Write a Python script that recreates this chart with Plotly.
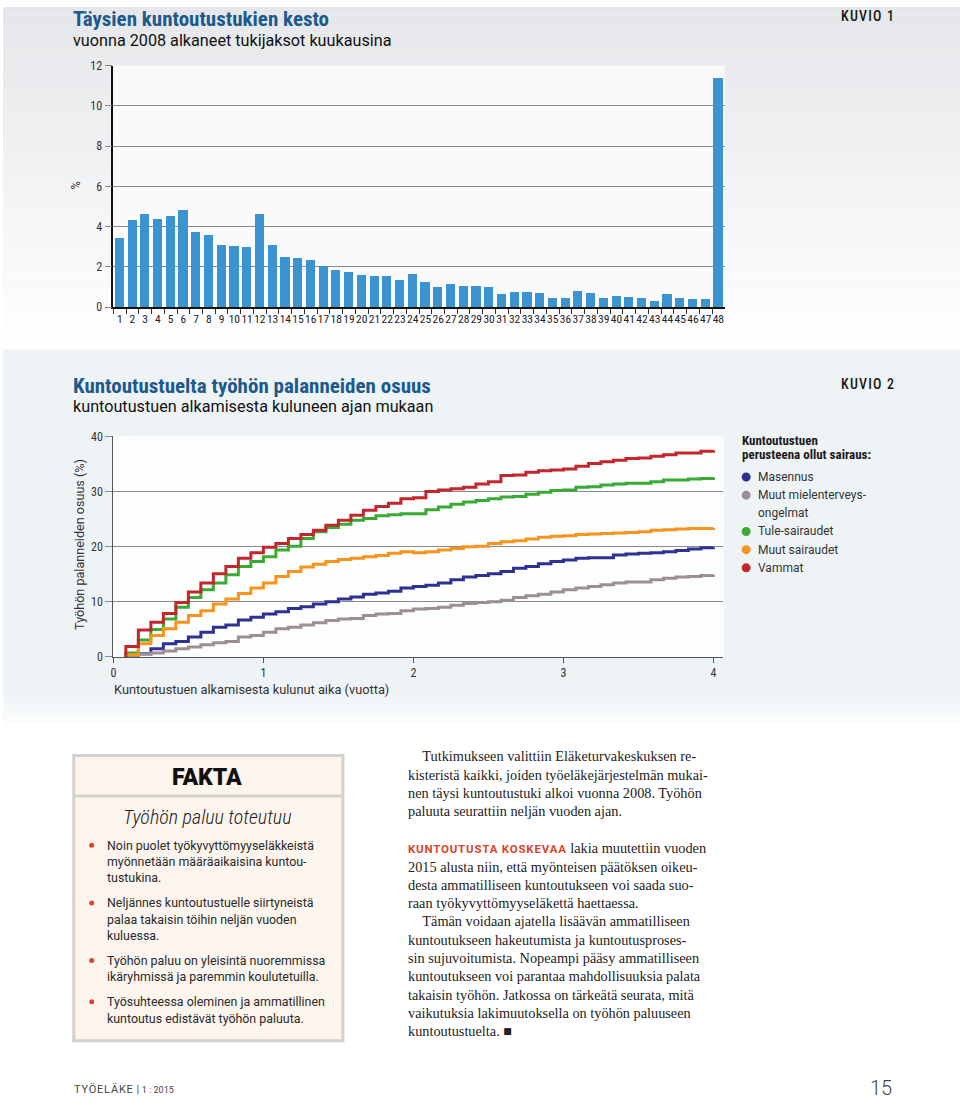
import plotly.graph_objects as go

W, H = 960, 1106

# kuvio 1: taysien kuntoutustukien kesto kuukausina (%)
months = list(range(1, 49))
share_pct = [3.48, 4.34, 4.65, 4.39, 4.56, 4.85, 3.76, 3.62, 3.12, 3.04,
             3.03, 4.67, 3.09, 2.51, 2.45, 2.38, 2.06, 1.88, 1.76, 1.63,
             1.58, 1.55, 1.36, 1.68, 1.26, 1.01, 1.16, 1.08, 1.08, 1.00,
             0.67, 0.80, 0.77, 0.72, 0.46, 0.46, 0.82, 0.73, 0.46, 0.57,
             0.52, 0.49, 0.34, 0.69, 0.49, 0.42, 0.41, 11.40]
y1_ticks = [0, 2, 4, 6, 8, 10, 12]

# kuvio 2: tyohon palanneiden osuus (%), kuukauden 1..48 kohdalla
step_months = list(range(1, 49))
masennus = [0.2, 0.6, 1.5, 2.4, 2.8, 3.6, 4.5, 5.4, 5.8, 6.7, 7.2, 7.8,
            8.2, 8.8, 9.1, 9.6, 10.0, 10.5, 10.9, 11.4, 11.6, 11.9, 12.5, 12.8,
            13.0, 13.4, 14.0, 14.5, 14.8, 15.1, 15.5, 16.1, 16.4, 16.9, 17.3, 17.6,
            17.9, 18.0, 18.0, 18.5, 18.7, 18.8, 18.9, 19.1, 19.3, 19.6, 19.8, 19.9]
muut_mielenterveys = [0.2, 0.5, 0.7, 1.1, 1.5, 1.8, 2.2, 2.6, 2.8, 3.6, 3.9, 4.5,
                      5.1, 5.4, 5.8, 6.2, 6.6, 6.9, 7.0, 7.5, 7.8, 7.9, 8.4, 8.7,
                      8.8, 9.0, 9.4, 9.7, 9.9, 10.0, 10.3, 10.8, 11.1, 11.4, 11.8, 12.2,
                      12.5, 12.8, 13.1, 13.4, 13.6, 13.6, 14.0, 14.3, 14.5, 14.6, 14.8, 14.9]
tule = [0.7, 3.1, 5.0, 6.9, 9.0, 10.8, 12.2, 13.4, 14.9, 16.4, 17.3, 18.2,
        19.4, 20.1, 21.5, 22.7, 23.5, 24.1, 24.8, 25.1, 25.6, 25.8, 26.0, 26.0,
        26.7, 27.2, 27.7, 28.1, 28.4, 28.7, 29.0, 29.1, 29.5, 29.9, 30.2, 30.3,
        30.8, 30.9, 31.2, 31.4, 31.5, 31.5, 31.8, 32.1, 32.1, 32.3, 32.4, 32.6]
muut_sairaudet = [0.4, 2.4, 3.9, 5.1, 6.3, 7.5, 8.4, 9.6, 10.5, 11.5, 12.5, 13.4,
                  14.6, 15.5, 16.3, 16.8, 17.3, 17.7, 17.9, 18.2, 18.4, 18.8, 19.1, 18.9,
                  19.1, 19.4, 19.7, 20.0, 20.1, 20.6, 20.9, 21.1, 21.4, 21.7, 21.9, 22.0,
                  22.2, 22.3, 22.4, 22.5, 22.6, 22.7, 23.0, 23.1, 23.2, 23.3, 23.3, 23.4]
vammat = [1.9, 4.9, 6.3, 7.9, 9.9, 11.8, 13.4, 15.1, 16.4, 17.9, 18.9, 19.9,
          20.6, 21.5, 22.2, 23.0, 23.9, 24.8, 25.7, 26.6, 27.3, 27.9, 28.7, 28.9,
          30.0, 30.3, 30.5, 30.8, 31.4, 31.8, 32.9, 33.0, 33.5, 33.8, 33.9, 34.1,
          34.6, 35.1, 35.4, 35.7, 36.0, 36.1, 36.4, 36.7, 37.0, 37.0, 37.3, 37.5]
series_names = ['Masennus', 'Muut mielenterveys-<br>ongelmat', 'Tule-sairaudet',
                'Muut sairaudet', 'Vammat']
series_values = [masennus, muut_mielenterveys, tule, muut_sairaudet, vammat]
series_colors = ['#2e3192', '#9b8f95', '#3aaa35', '#f7941d', '#c1272d']
x2_ticks = [0, 1, 2, 3, 4]
y2_ticks = [0, 10, 20, 30, 40]

fakta_items = [
  ['Noin puolet työkyvyttömyyseläkkeistä', 'myönnetään määräaikaisina kuntou-', 'tustukina.'],
  ['Neljännes kuntoutustuelle siirtyneistä', 'palaa takaisin töihin neljän vuoden', 'kuluessa.'],
  ['Työhön paluu on yleisintä nuoremmissa', 'ikäryhmissä ja paremmin koulutetuilla.'],
  ['Työsuhteessa oleminen ja ammatillinen', 'kuntoutus edistävät työhön paluuta.'],
]
body_paragraphs = [
  ['\u2003Tutkimukseen valittiin Eläketurvakeskuksen re-',
   'kisteristä kaikki, joiden työeläkejärjestelmän mukai-',
   'nen täysi kuntoutustuki alkoi vuonna 2008. Työhön',
   'paluuta seurattiin neljän vuoden ajan.'],
  ['<LEAD> lakia muutettiin vuoden',
   '2015 alusta niin, että myönteisen päätöksen oikeu-',
   'desta ammatilliseen kuntoutukseen voi saada suo-',
   'raan työkyvyttömyyseläkettä haettaessa.',
   '\u2003Tämän voidaan ajatella lisäävän ammatilliseen',
   'kuntoutukseen hakeutumista ja kuntoutusproses-',
   'sin sujuvoitumista. Nopeampi pääsy ammatilliseen',
   'kuntoutukseen voi parantaa mahdollisuuksia palata',
   'takaisin työhön. Jatkossa on tärkeätä seurata, mitä',
   'vaikutuksia lakimuutoksella on työhön paluuseen',
   'kuntoutustuelta. \u25a0'],
]
lead_in = 'KUNTOUTUSTA KOSKEVAA'

COND = 'Roboto Condensed, DejaVu Sans Condensed, sans-serif'
SANS = 'Roboto, DejaVu Sans, sans-serif'
SERIF = 'Liberation Serif, DejaVu Serif, serif'
BLUE_TITLE = '#1d5a8c'


def px(x):
  return x / W


def py(y):
  return 1 - y / H


fig = go.Figure()

fig.add_trace(go.Bar(x=months, y=share_pct, marker_color='#3b94cf',
                     marker_line_width=0, width=0.72,
                     xaxis='x', yaxis='y', showlegend=False))

for name, vals, col in zip(series_names, series_values, series_colors):
  xs = [step_months[0] / 12] + [m / 12 for m in step_months]
  ys = [0] + vals
  fig.add_trace(go.Scatter(x=xs, y=ys, mode='lines', line_shape='hv',
                           line=dict(color=col, width=3), name=name,
                           xaxis='x2', yaxis='y2', showlegend=False))

# backgrounds
shapes = []
n_band = 40
for i in range(n_band):
  t = i / (n_band - 1)
  r = int(229 + (255 - 229) * t)
  g = int(231 + (255 - 231) * t)
  b = int(234 + (255 - 234) * t)
  shapes.append(dict(type='rect', xref='paper', yref='paper', x0=0, x1=1,
                     y0=py(347 * (i + 1) / n_band), y1=py(347 * i / n_band),
                     fillcolor='rgb(%d,%d,%d)' % (r, g, b), line_width=0, layer='below'))
shapes.append(dict(type='rect', xref='paper', yref='paper', x0=0, x1=1,
                   y0=py(695), y1=py(347), fillcolor='#eef3f6', line_width=0, layer='below'))
for i in range(12):
  t = (i + 1) / 12
  shapes.append(dict(type='rect', xref='paper', yref='paper', x0=0, x1=1,
                     y0=py(695 + 40 * (i + 1) / 12), y1=py(695 + 40 * i / 12),
                     fillcolor='rgb(%d,%d,%d)' % (int(238 + 17 * t), int(243 + 12 * t), int(246 + 9 * t)),
                     line_width=0, layer='below'))
shapes.append(dict(type='rect', xref='paper', yref='paper', x0=px(110.7), x1=px(724),
                   y0=py(304), y1=py(59.3), fillcolor='#fafafa', line_width=0, layer='below'))
shapes.append(dict(type='rect', xref='paper', yref='paper', x0=px(110.7), x1=px(723),
                   y0=py(658.3), y1=py(435), fillcolor='#fcfdfd', line_width=0, layer='below'))
# fakta box
shapes.append(dict(type='rect', xref='paper', yref='paper', x0=px(71), x1=px(341),
                   y0=py(1047), y1=py(758), fillcolor='#fcf5ee',
                   line=dict(color='#d3d1ce', width=3), layer='below'))
shapes.append(dict(type='line', xref='paper', yref='paper', x0=px(71), x1=px(341),
                   y0=py(799), y1=py(799), line=dict(color='#d3d1ce', width=3), layer='below'))

ann = []


def text(x, y, s, size, color='#1a1a1a', family=COND, xanchor='left', yanchor='middle',
         weight='normal', style='normal', **kw):
  ann.append(dict(xref='paper', yref='paper', x=px(x), y=py(y), text=s, showarrow=False,
                  xanchor=xanchor, yanchor=yanchor, align='left', borderpad=0,
                  font=dict(size=size, color=color, family=family, weight=weight, style=style),
                  **kw))


def spaced(s, ls):
  return '<span style="letter-spacing:%spx">%s</span>' % (ls, s)


# headers
text(69, 12.5, 'Täysien kuntoutustukien kesto', 21, BLUE_TITLE, weight='bold')
text(69, 34, 'vuonna 2008 alkaneet tukijaksot kuukausina', 16.2, '#111', family=SANS)
text(868, 9, spaced('KUVIO 1', 1.2), 14, '#1a1a1a', xanchor='center', weight=500)
text(73, 181, '%', 13, '#333', xanchor='center', textangle=-90)

text(69, 383.5, 'Kuntoutustuelta työhön palanneiden osuus', 21, BLUE_TITLE, weight='bold')
text(69, 405, 'kuntoutustuen alkamisesta kuluneen ajan mukaan', 16.2, '#111', family=SANS)
text(868, 382, spaced('KUVIO 2', 1.2), 14, '#1a1a1a', xanchor='center', weight=500)
text(76, 544, 'Työhön palanneiden osuus (%)', 12.6, '#333', family=SANS, xanchor='center',
     textangle=-90)
text(110, 691, 'Kuntoutustuen alkamisesta kulunut aika (vuotta)', 12.8, '#333', family=SANS)

# legend of kuvio 2
text(740, 439, 'Kuntoutustuen', 13, '#1a1a1a', weight='bold')
text(740, 453, 'perusteena ollut sairaus:', 13, '#1a1a1a', weight='bold')
row = 476
for name, col in zip(series_names, series_colors):
  shapes.append(dict(type='circle', xref='paper', yref='paper', xsizemode='pixel',
                     ysizemode='pixel', xanchor=px(745.5), yanchor=py(row),
                     x0=-4.5, x1=4.5, y0=-4.5, y1=4.5, fillcolor=col, line_width=0))
  for part in name.split('<br>'):
    text(756, row, part, 12, '#333', family=SANS)
    row += 18.4

# fakta
text(205, 780, 'FAKTA', 23, '#111', family=SANS, xanchor='center', weight=900)
text(205, 820, 'Työhön paluu toteutuu', 20, '#222', xanchor='center', weight=300, style='italic')
top = 840.5
for item in fakta_items:
  shapes.append(dict(type='circle', xref='paper', yref='paper', xsizemode='pixel',
                     ysizemode='pixel', xanchor=px(89), yanchor=py(top + 8.5),
                     x0=-2.5, x1=2.5, y0=-2.5, y1=2.5, fillcolor='#d9452b', line_width=0))
  for j, line in enumerate(item):
    text(103, top + 8.3 + 16.6 * j, line, 12.4, '#2a2a2a', family=SANS)
  top += 16.6 * len(item) + 8.6

# body text
lead = ('<span style="font-family:Roboto, sans-serif;font-size:11.5px;font-weight:bold;'
        'color:#d9452b;letter-spacing:0.8px">%s</span>' % lead_in)
tops = [759, 852]
for para, t in zip(body_paragraphs, tops):
  for j, line in enumerate(para):
    text(405, t + 18.55 * j, line.replace('<LEAD>', lead), 14.3, '#222', family=SERIF)

# footer
text(70, 1096, spaced('TYÖELÄKE', 0.8) + ' | ' + '<span style="font-size:9px">1 : 2015</span>',
     11, '#444', family=SANS)
text(881, 1095, '15', 20, '#444', family=SANS, xanchor='center', weight=300)

fig.update_layout(
  width=W, height=H, margin=dict(l=0, r=0, t=0, b=0),
  paper_bgcolor='white', plot_bgcolor='rgba(0,0,0,0)',
  shapes=shapes, annotations=ann, showlegend=False, bargap=0,
  xaxis=dict(domain=[px(110.7), px(724)], range=[0.5, 48.5], anchor='y',
             tickvals=months, ticktext=[str(m) for m in months], tickangle=0,
             ticks='', showgrid=False, zeroline=False,
             showline=True, linecolor='#111', linewidth=1.5,
             tickfont=dict(size=11.5, color='#222', family=COND),
             minor=dict(tickvals=[m + 0.5 for m in months[:-1]] + [0.5],
                        ticks='outside', ticklen=5, tickcolor='#333', showgrid=False)),
  yaxis=dict(domain=[py(304), py(59.3)], range=[0, 12], anchor='x',
             tickvals=y1_ticks, showgrid=True, gridcolor='#8a8a8a', gridwidth=1,
             zeroline=False, showline=True, linecolor='#111', linewidth=1.5,
             ticks='outside', ticklen=7, tickcolor='#8a8a8a',
             tickfont=dict(size=12, color='#333', family=COND)),
  xaxis2=dict(domain=[px(110.7), px(722.3)], range=[0, 4.064], anchor='y2',
              tickvals=x2_ticks, ticks='outside', ticklen=5, tickcolor='#555',
              showgrid=False, zeroline=False, showline=True, linecolor='#555', linewidth=1.2,
              tickfont=dict(size=12, color='#333', family=COND)),
  yaxis2=dict(domain=[py(658.3), py(435)], range=[0, 40], anchor='x2',
              tickvals=y2_ticks, showgrid=True, gridcolor='#8a8a8a', gridwidth=1,
              zeroline=False, showline=True, linecolor='#555', linewidth=1.2,
              ticks='outside', ticklen=7, tickcolor='#8a8a8a',
              tickfont=dict(size=12, color='#333', family=COND)),
)

# drop the default body margin so the 960x1106 figure fills the window
fig.write_html('out.html', config={'displayModeBar': False},
               post_script="document.body.style.margin='0';")
